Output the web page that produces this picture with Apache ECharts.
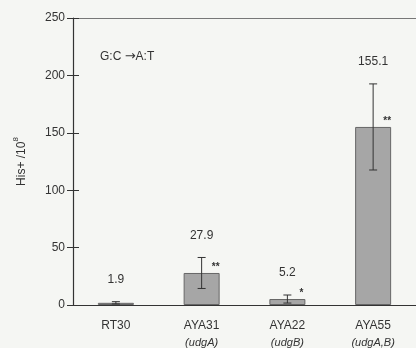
<!DOCTYPE html>
<html><head><meta charset="utf-8">
<script src="https://cdn.jsdelivr.net/npm/echarts@6/dist/echarts.min.js"></script>
<style>html,body{margin:0;padding:0;background:#f5f6f3;}#c{width:416px;height:348px;}</style>
</head><body><div id="c"></div>
<script>
const categories = ['RT30', 'AYA31', 'AYA22', 'AYA55'];
const genes = ['', 'udgA', 'udgB', 'udgA,B'];
const values = [1.9, 27.9, 5.2, 155.1];
const errors = [1.0, 13.5, 3.5, 37.5];
const signif = ['', '**', '*', '**'];
const yTicks = [0, 50, 100, 150, 200, 250];

const chart = echarts.init(document.getElementById('c'));
const FONT = 'Liberation Sans';
const errData = values.map((v, i) => [i, v, v - errors[i], v + errors[i], signif[i]]);

chart.setOption({
  backgroundColor: '#f5f6f3',
  animation: false,
  textStyle: { fontFamily: FONT },
  grid: { left: 73, top: 18, bottom: 43, width: 350, containLabel: false },
  graphic: [{
    type: 'text', left: 100, top: 50,
    style: {
      text: '{a|G:C }{b|→}{a|A:T}',
      rich: {
        a: { font: '12px "Liberation Sans"', fill: '#333' },
        b: { font: '13px "DejaVu Sans"', fill: '#333' }
      }
    }
  }],
  xAxis: [{
    type: 'category', data: categories,
    axisLine: { lineStyle: { color: '#333', width: 1.2 } },
    axisTick: { show: false },
    axisLabel: {
      margin: 12, color: '#333',
      formatter: (v, i) => genes[i] ? '{n|' + v + '}\n{g|(' + genes[i] + ')}' : '{n|' + v + '}\n{g| }',
      rich: {
        n: { fontSize: 12, fontFamily: FONT, color: '#333', lineHeight: 17 },
        g: { fontSize: 11, fontFamily: FONT, fontStyle: 'italic', color: '#333', lineHeight: 17 }
      }
    }
  }, {
    type: 'category', data: categories, position: 'top',
    axisLine: { onZero: false, lineStyle: { color: '#777', width: 1.2 } },
    axisTick: { show: false }, axisLabel: { show: false }
  }],
  yAxis: [{
    type: 'value', min: 0, max: 250, interval: 50,
    axisLine: { show: true, lineStyle: { color: '#333', width: 1.2 } },
    axisTick: { show: true, length: 6, lineStyle: { color: '#333' } },
    splitLine: { show: false },
    axisLabel: { color: '#333', fontSize: 12, margin: 8, formatter: v => yTicks.includes(v) ? String(v) : '' },
    name: '{a|His+ /10}{s|8}', nameLocation: 'middle', nameGap: 45, nameRotate: 90,
    nameTextStyle: {
      rich: {
        a: { fontSize: 12, fontFamily: FONT, color: '#333', lineHeight: 16, verticalAlign: 'bottom' },
        s: { fontSize: 8, fontFamily: FONT, color: '#333', lineHeight: 8, verticalAlign: 'top' }
      }
    }
  }, {
    type: 'value', min: 0, max: 250, interval: 50, position: 'left',
    axisLine: { show: false },
    axisTick: { show: true, inside: true, length: 6, lineStyle: { color: '#333' } },
    splitLine: { show: false }, axisLabel: { show: false }
  }],
  series: [{
    type: 'bar', data: values, barWidth: 36,
    itemStyle: { color: '#a6a6a6', borderColor: '#666', borderWidth: 1 }
  }, {
    type: 'custom', data: errData, z: 10,
    renderItem: (params, api) => {
      const x = api.value(0);
      const top = api.coord([x, api.value(3)]);
      const bot = api.coord([x, api.value(2)]);
      const barTop = api.coord([x, api.value(1)]);
      const cap = 4;
      const style = { stroke: '#333', lineWidth: 1 };
      const children = [
        { type: 'line', shape: { x1: top[0], y1: top[1], x2: bot[0], y2: bot[1] }, style },
        { type: 'line', shape: { x1: top[0] - cap, y1: top[1], x2: top[0] + cap, y2: top[1] }, style },
        { type: 'line', shape: { x1: bot[0] - cap, y1: bot[1], x2: bot[0] + cap, y2: bot[1] }, style },
        { type: 'text', style: { text: String(api.value(1)), x: top[0], y: top[1] - 22, align: 'center', verticalAlign: 'middle', font: '12px "Liberation Sans"', fill: '#333' } }
      ];
      const s = errData[params.dataIndex][4];
      if (s) children.push({ type: 'text', style: { text: s, x: barTop[0] + 14, y: barTop[1] - 6, align: 'center', verticalAlign: 'middle', font: 'bold 10px "Liberation Sans"', fill: '#333' } });
      return { type: 'group', children };
    }
  }]
});
</script></body></html>
